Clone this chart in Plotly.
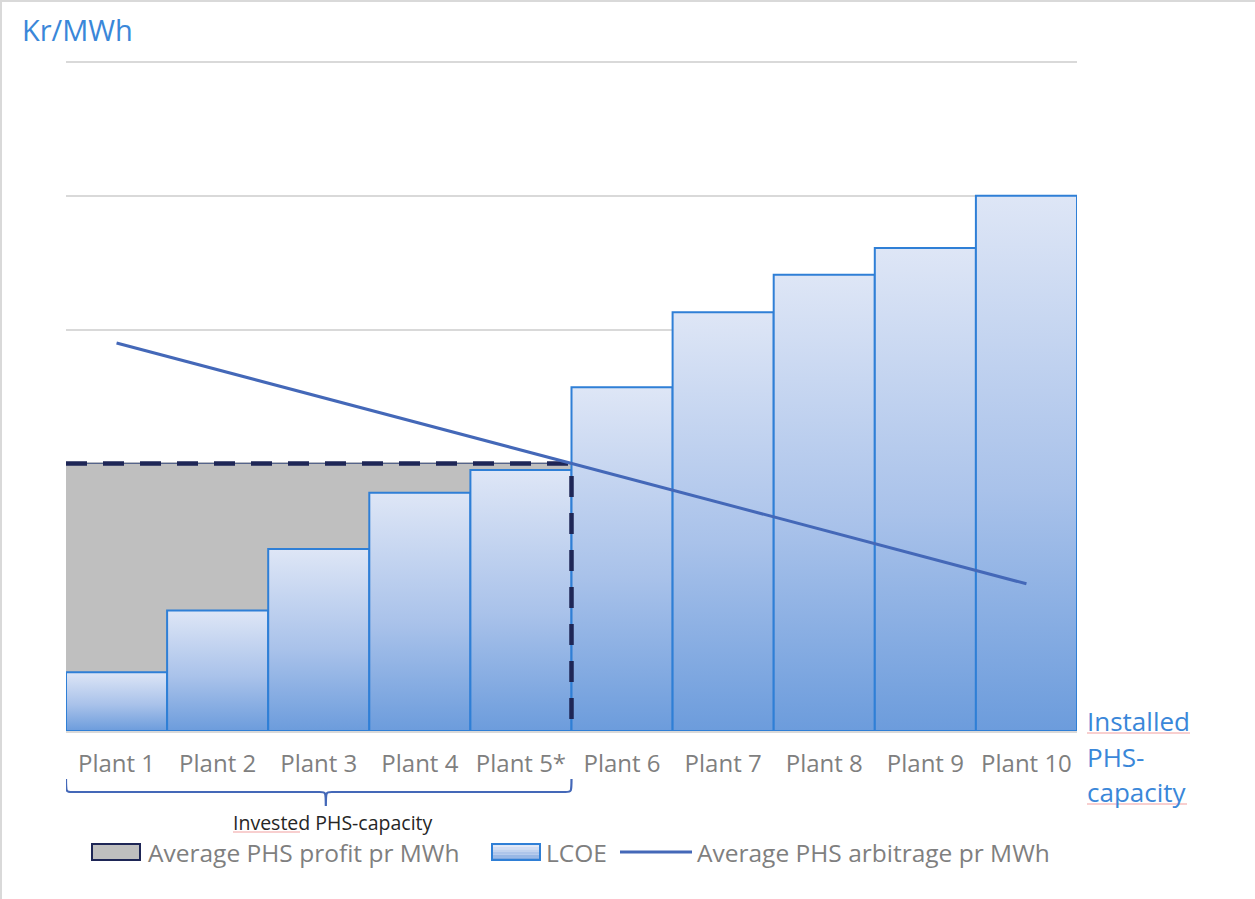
import plotly.graph_objects as go

# ---- data ----
plants = ["Plant 1", "Plant 2", "Plant 3", "Plant 4", "Plant 5*",
          "Plant 6", "Plant 7", "Plant 8", "Plant 9", "Plant 10"]
lcoe = [0.44, 0.90, 1.36, 1.78, 1.95, 2.57, 3.13, 3.41, 3.61, 4.00]
arbitrage = [2.90, 2.70, 2.50, 2.30, 2.10, 1.90, 1.70, 1.50, 1.30, 1.10]
profit = [2.00, 2.00, 2.00, 2.00, 2.00]   # invested plants (1-5)

# ---- style ----
FONT = "Open Sans"
GREY_TXT = "#7f7f7f"
BLUE_TXT = "#3a87d9"
BAR_EDGE = "#2f7fd6"
LINE_BLUE = "#4468b8"
NAVY = "#1e2656"
GRID = "#d9d9d9"
GRAD = [[0.0, "#6c9cdc"], [0.45, "#a9c2ea"], [1.0, "#dee6f6"]]

W, H = 1255, 899
L, R, T, B = 66, 178, 62, 168
PW, PH = W - L - R, H - T - B


def px(x):
    return (x - L) / PW


def py(y):
    return (H - B - y) / PH


fig = go.Figure()

# profit area behind the LCOE bars (one block across the invested plants)
n = len(profit)
px_area = [-0.5] + [i + s for i in range(n) for s in (-0.5, 0.5)] + [n - 0.5]
py_area = [0] + [v for v in profit for _ in (0, 1)] + [0]
fig.add_trace(go.Scatter(
    x=px_area, y=py_area, mode="lines", fill="toself",
    fillcolor="#bfbfbf", line=dict(width=0),
    showlegend=False, hoverinfo="skip"))

# LCOE bars, each with its own vertical gradient
for i, v in enumerate(lcoe):
    fig.add_trace(go.Scatter(
        x=[i - 0.5, i - 0.5, i + 0.5, i + 0.5, i - 0.5],
        y=[0, v, v, 0, 0],
        mode="lines", fill="toself",
        fillgradient=dict(type="vertical", colorscale=GRAD),
        line=dict(color=BAR_EDGE, width=2),
        showlegend=False, hoverinfo="skip"))

# dashed outline of the profit area
fig.add_trace(go.Scatter(
    x=[-0.5, n - 0.5], y=[profit[0], profit[-1]],
    mode="lines", line=dict(color="#55648a", width=1.2),
    showlegend=False, hoverinfo="skip"))
fig.add_trace(go.Scatter(
    x=[-0.5, n - 0.5, n - 0.5], y=[profit[0], profit[-1], 0],
    mode="lines", line=dict(color=NAVY, width=4.5, dash="21px,16px"),
    showlegend=False, hoverinfo="skip"))

# arbitrage line
fig.add_trace(go.Scatter(
    x=list(range(len(arbitrage))), y=arbitrage,
    mode="lines", line=dict(color=LINE_BLUE, width=3),
    showlegend=False, hoverinfo="skip"))

shapes = []
annotations = []

# top gridline sits on the upper edge of the plot area
shapes.append(dict(type="line", xref="paper", yref="paper", layer="below",
                   x0=0, x1=1, y0=1, y1=1,
                   line=dict(color=GRID, width=1.8)))

# outer frame (top and left edges)
shapes.append(dict(type="line", xref="paper", yref="paper",
                   x0=px(0), x1=px(W), y0=py(1), y1=py(1),
                   line=dict(color=GRID, width=2)))
shapes.append(dict(type="line", xref="paper", yref="paper",
                   x0=px(1), x1=px(1), y0=py(0), y1=py(H),
                   line=dict(color=GRID, width=2)))

# brace under the invested plants
bx0, bx1 = -0.5, n - 0.5
bm = (bx0 + bx1) / 2 + 0.07
yt, yh, yb = py(779), py(792), py(806)
d = 0.06
brace = (f"M {bx0},{yt} C {bx0},{yh} {bx0},{yh} {bx0 + d},{yh} "
         f"L {bm - d},{yh} C {bm},{yh} {bm},{yh} {bm},{yb} "
         f"C {bm},{yh} {bm},{yh} {bm + d},{yh} "
         f"L {bx1 - d},{yh} C {bx1},{yh} {bx1},{yh} {bx1},{yt}")
shapes.append(dict(type="path", xref="x", yref="paper", path=brace,
                   line=dict(color=LINE_BLUE, width=2.2)))
annotations.append(dict(x=bm + 0.07, y=py(822), xref="x", yref="paper",
                        text="Invested PHS-capacity", showarrow=False,
                        xanchor="center", yanchor="middle",
                        font=dict(family=FONT, size=19.5, color="#262626")))
shapes.append(dict(type="line", xref="paper", yref="paper",
                   x0=px(233), x1=px(300), y0=py(832), y1=py(832),
                   line=dict(color="#f2a0a0", width=1.2)))

# axis titles
annotations.append(dict(x=px(20), y=py(30), xref="paper", yref="paper",
                        text="Kr/MWh", showarrow=False,
                        xanchor="left", yanchor="middle",
                        font=dict(family=FONT, size=29, color=BLUE_TXT)))
for word, yc in [("Installed", 721), ("PHS-", 756.5), ("capacity", 792)]:
    annotations.append(dict(x=px(1085), y=py(yc), xref="paper", yref="paper",
                            text=word, showarrow=False,
                            xanchor="left", yanchor="middle",
                            font=dict(family=FONT, size=26, color=BLUE_TXT)))
for ux0, ux1, uy in [(1087, 1190, 733), (1087, 1187, 804)]:
    shapes.append(dict(type="line", xref="paper", yref="paper",
                       x0=px(ux0), x1=px(ux1), y0=py(uy), y1=py(uy),
                       line=dict(color="#f2a0a0", width=1.2)))

# legend
ly = 852
shapes.append(dict(type="rect", xref="paper", yref="paper",
                   x0=px(92), x1=px(140), y0=py(844), y1=py(860),
                   fillcolor="#bfbfbf", line=dict(color=NAVY, width=2)))
annotations.append(dict(x=px(146), y=py(ly), xref="paper", yref="paper",
                        text="Average PHS profit pr MWh", showarrow=False,
                        xanchor="left", yanchor="middle",
                        font=dict(family=FONT, size=24.5, color=GREY_TXT)))
strips = ["#dfe7f6", "#d2ddf3", "#c2d3ef", "#aec5ea", "#98b7e5", "#7fa7df"]
sh = 16 / len(strips)
for k, c in enumerate(strips):
    shapes.append(dict(type="rect", xref="paper", yref="paper",
                       x0=px(492), x1=px(540),
                       y0=py(844 + k * sh), y1=py(844 + (k + 1) * sh),
                       fillcolor=c, line=dict(width=0)))
shapes.append(dict(type="rect", xref="paper", yref="paper",
                   x0=px(492), x1=px(540), y0=py(844), y1=py(860),
                   line=dict(color=BAR_EDGE, width=2)))
annotations.append(dict(x=px(544), y=py(ly), xref="paper", yref="paper",
                        text="LCOE", showarrow=False,
                        xanchor="left", yanchor="middle",
                        font=dict(family=FONT, size=24.5, color=GREY_TXT)))
shapes.append(dict(type="line", xref="paper", yref="paper",
                   x0=px(620), x1=px(692), y0=py(ly), y1=py(ly),
                   line=dict(color=LINE_BLUE, width=3)))
annotations.append(dict(x=px(695), y=py(ly), xref="paper", yref="paper",
                        text="Average PHS arbitrage pr MWh", showarrow=False,
                        xanchor="left", yanchor="middle",
                        font=dict(family=FONT, size=24.5, color=GREY_TXT)))

fig.update_layout(
    width=W, height=H,
    margin=dict(l=L, r=R, t=T, b=B),
    paper_bgcolor="white", plot_bgcolor="white",
    showlegend=False,
    font=dict(family=FONT, color=GREY_TXT),
    shapes=shapes, annotations=annotations,
    xaxis=dict(range=[-0.5, len(plants) - 0.5],
               tickvals=list(range(len(plants))), ticktext=plants,
               tickfont=dict(family=FONT, size=24, color=GREY_TXT),
               ticks="outside", ticklen=10, tickcolor="rgba(0,0,0,0)",
               showgrid=False, zeroline=False,
               showline=True, linecolor=GRID, linewidth=2),
    yaxis=dict(range=[0, 5], dtick=1, showticklabels=False,
               showgrid=True, gridcolor=GRID, gridwidth=1.5,
               zeroline=False, showline=False),
)

fig.write_html("out.html")
